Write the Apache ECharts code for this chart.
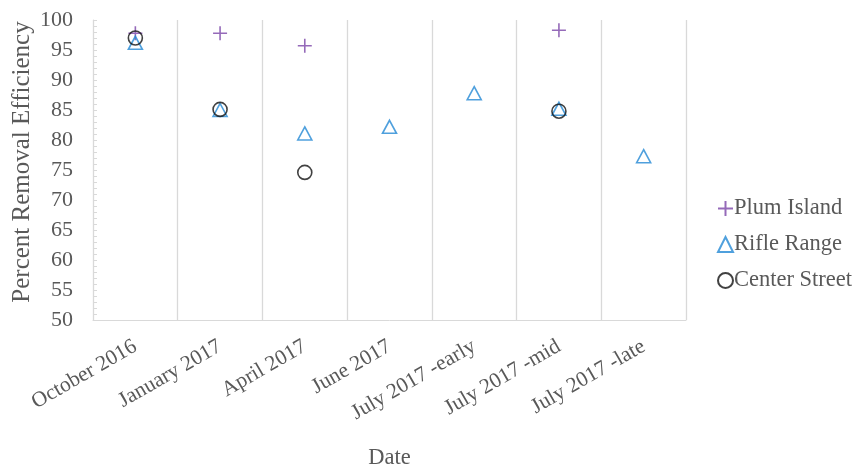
<!DOCTYPE html>
<html><head><meta charset="utf-8">
<script src="https://cdn.jsdelivr.net/npm/echarts@6/dist/echarts.min.js"></script>
<style>html,body{margin:0;padding:0;background:#fff}#c{width:853px;height:467px}</style>
</head><body><div id="c"></div>
<script>
const categories = ["October 2016","January 2017","April 2017","June 2017","July 2017 -early","July 2017 -mid","July 2017 -late"];
const plumIsland = [97.8, 97.8, 95.7, null, null, 98.3, null];
const rifleRange = [96.2, 85.0, 81.1, 82.2, 87.8, 85.2, 77.3];
const centerStreet = [97.0, 85.1, 74.6, null, null, 84.8, null];
const yTicks = {min: 50, max: 100, interval: 5};

const gray = '#595959';
const font = 'Liberation Serif';
const chart = echarts.init(document.getElementById('c'));
chart.setOption({
  animation: false,
  textStyle: {fontFamily: font},
  grid: {left: 93, right: 167, top: 20, bottom: 147, outerBoundsMode: 'none', containLabel: false},
  legend: {
    orient: 'vertical', left: 712, top: 192, itemGap: 13,
    itemWidth: 15, itemHeight: 15,
    textStyle: {fontFamily: font, fontSize: 22.5, color: gray, padding: [0,0,0,-4]},
    data: ['Plum Island','Rifle Range','Center Street']
  },
  xAxis: {
    type: 'category', data: categories, boundaryGap: true,
    name: 'Date', nameLocation: 'middle', nameGap: 127, nameMoveOverlap: false,
    nameTextStyle: {fontFamily: font, fontSize: 22.5, color: gray},
    axisLine: {lineStyle: {color: '#d9d9d9'}},
    axisTick: {show: false},
    axisLabel: {rotate: 30, fontFamily: font, fontSize: 21.5, color: gray, margin: 25, interval: 0},
    splitLine: {show: true, lineStyle: {color: '#d9d9d9', width: 1.3}}
  },
  yAxis: {
    type: 'value', min: yTicks.min, max: yTicks.max, interval: yTicks.interval,
    name: 'Percent Removal Efficiency', nameLocation: 'middle', nameGap: 58, nameMoveOverlap: false,
    nameTextStyle: {fontFamily: font, fontSize: 25, color: gray, padding: [0, 0, 0, 16]},
    axisLine: {show: true, lineStyle: {color: '#d9d9d9'}},
    axisTick: {show: true, inside: true, length: 4, lineStyle: {color: '#d9d9d9'}},
    minorTick: {show: true, splitNumber: 5, length: 4, lineStyle: {color: '#d9d9d9'}},
    axisLabel: {fontFamily: font, fontSize: 22, color: gray, margin: 20},
    splitLine: {show: false}
  },
  series: [
    {name: 'Plum Island', type: 'scatter', data: plumIsland,
     symbol: 'path://M0,5L10,5M5,0L5,10', symbolSize: 14,
     itemStyle: {color: 'rgba(0,0,0,0)', borderColor: '#7A45A8', borderWidth: 1.6}},
    {name: 'Rifle Range', type: 'scatter', data: rifleRange,
     symbol: 'triangle', symbolSize: [14, 13],
     itemStyle: {color: 'rgba(0,0,0,0)', borderColor: '#2388D4', borderWidth: 1.6}},
    {name: 'Center Street', type: 'scatter', data: centerStreet,
     symbol: 'circle', symbolSize: 14,
     itemStyle: {color: 'rgba(0,0,0,0)', borderColor: '#111111', borderWidth: 1.6}}
  ]
});
</script></body></html>
